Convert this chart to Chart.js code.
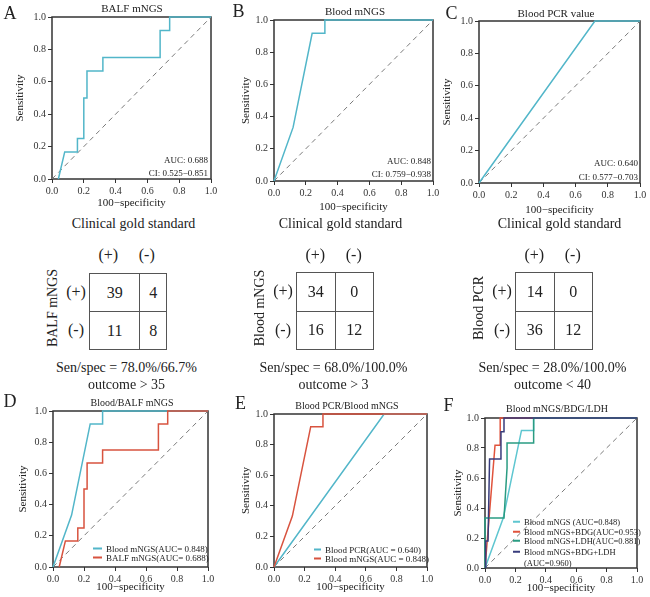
<!DOCTYPE html>
<html lang="en">
<head>
<meta charset="UTF-8">
<title>ROC curves of mNGS / PCR</title>
<script src="https://cdn.jsdelivr.net/npm/chart.js"></script>
<style>
  * { margin: 0; padding: 0; box-sizing: border-box; }
  body { background: #fff; font-family: "Liberation Serif", "Times New Roman", serif; color: #222; }
  #fig { position: relative; width: 650px; height: 597px; overflow: hidden; background: #fff; }
  #fig canvas { position: absolute; }
  .t { position: absolute; white-space: nowrap; line-height: 1; transform: translate(-50%, -50%); }
  .r { transform: translate(-100%, -50%); }
  .l { transform: translate(0, -50%); }
  .rot { transform: translate(-50%, -50%) rotate(-90deg); }
  .sw { display: inline-block; height: 1.5px; vertical-align: middle; margin-right: 4px; position: relative; top: -1px; }
  table.ct { position: absolute; border-collapse: collapse; }
  table.ct td { border: 1px solid #555; text-align: center; font-size: 16px; padding: 0; }
</style>
</head>
<body>
<div id="fig">
  <canvas id="rocA"></canvas>
  <canvas id="rocB"></canvas>
  <canvas id="rocC"></canvas>
  <canvas id="rocD"></canvas>
  <canvas id="rocE"></canvas>
  <canvas id="rocF"></canvas>
</div>

<script>
// ---- data ----
const tickValues = [0, 0.2, 0.4, 0.6, 0.8, 1.0];

const balfFpr = [0.04, 0.08, 0.16, 0.16, 0.20, 0.20, 0.22, 0.22, 0.32, 0.32, 0.68, 0.68, 0.74, 0.74, 1.0];
const balfTpr = [0, 0.167, 0.167, 0.25, 0.25, 0.5, 0.5, 0.667, 0.667, 0.75, 0.75, 0.917, 0.917, 1, 1];

const bloodFpr = [0, 0.12, 0.24, 0.32, 0.32, 1.0];
const bloodTpr = [0, 0.333, 0.917, 0.917, 1, 1];

const pcrFpr = [0, 0.72, 1.0];
const pcrTpr = [0, 1, 1];

const bdgFpr = [0, 0.066, 0.10, 0.10, 1.0];
const bdgTpr = [0, 0.818, 0.818, 1, 1];

const ldhFpr = [0, 0, 0.125, 0.135, 0.14, 0.145, 0.145, 0.32, 0.32, 1.0];
const ldhTpr = [0, 0.333, 0.333, 0.5, 0.583, 0.667, 0.833, 0.833, 1, 1];

const bdgLdhFpr = [0.005, 0.005, 0.02, 0.03, 0.105, 0.105, 0.125, 0.125, 1.0];
const bdgLdhTpr = [0, 0.18, 0.18, 0.727, 0.727, 0.909, 0.909, 1, 1];

const tableBalf = [[39, 4], [11, 8]];
const tableBlood = [[34, 0], [16, 12]];
const tablePcr = [[14, 0], [36, 12]];

const cyan = '#52b6c9';
const red = '#d8533f';
const fam = '"Liberation Serif", "Times New Roman", serif';

const fig = document.getElementById('fig');

function put(txt, x, y, size, cls, extra) {
  const d = document.createElement('div');
  d.className = 't' + (cls ? ' ' + cls : '');
  d.style.left = x + 'px';
  d.style.top = y + 'px';
  d.style.fontSize = size + 'px';
  if (extra) Object.assign(d.style, extra);
  d.innerHTML = txt;
  fig.appendChild(d);
  return d;
}

const frame = {
  id: 'frame',
  beforeDatasetsDraw(c) {
    const a = c.chartArea, ctx = c.ctx;
    ctx.save();
    ctx.strokeStyle = '#333';
    ctx.lineWidth = 1.5;
    ctx.strokeRect(a.left, a.top, a.right - a.left, a.bottom - a.top);
    ctx.restore();
  }
};

function axis(label, fit) {
  return {
    type: 'linear', min: 0, max: 1,
    afterBuildTicks: s => { s.ticks = tickValues.map(v => ({ value: v })); },
    afterFit: fit,
    ticks: { callback: v => v.toFixed(1), font: { family: fam, size: 10 }, color: '#333', padding: 2, maxRotation: 0 },
    grid: { drawOnChartArea: false, drawTicks: true, tickLength: 4, color: '#333' },
    border: { display: false },
    title: { display: true, text: label, font: { family: fam, size: 11, lineHeight: 1 }, padding: 0, color: '#222' }
  };
}

function roc(id, area, series, yOff, xOff) {
  const W = Math.round(yOff + 5.5), H = Math.round(xOff + 5.5);
  const padL = 4, padT = 10, padR = 14, padB = 4;
  const cv = document.getElementById(id);
  cv.width = (area.r - area.l) + W + padL + padR;
  cv.height = (area.b - area.t) + H + padT + padB;
  cv.style.left = (area.l - W - padL) + 'px';
  cv.style.top = (area.t - padT) + 'px';

  const sets = series.map(s => ({
    data: s.fpr.map((x, i) => ({ x: x, y: s.tpr[i] })),
    borderColor: s.color, borderWidth: 1.5, showLine: true,
    pointRadius: 0, tension: 0, fill: false, clip: 3
  }));
  sets.push({
    data: [{ x: 0, y: 0 }, { x: 1, y: 1 }],
    borderColor: '#7a7a7a', borderWidth: 1, borderDash: [5, 4],
    showLine: true, pointRadius: 0, fill: false
  });

  return new Chart(cv, {
    type: 'scatter',
    data: { datasets: sets },
    options: {
      responsive: false, animation: false, events: [],
      layout: { padding: { left: padL, top: padT, right: padR, bottom: padB } },
      plugins: { legend: { display: false }, tooltip: { enabled: false } },
      scales: {
        x: axis('100−specificity', s => { s.height = H; }),
        y: axis('Sensitivity', s => { s.width = W; })
      }
    },
    plugins: [frame]
  });
}

// top row
roc('rocA', { l: 52, r: 211, t: 17, b: 179 }, [{ fpr: balfFpr, tpr: balfTpr, color: cyan }], 31, 24);
roc('rocB', { l: 274, r: 433, t: 20, b: 181 }, [{ fpr: bloodFpr, tpr: bloodTpr, color: cyan }], 27, 26);
roc('rocC', { l: 479, r: 640, t: 21, b: 183 }, [{ fpr: pcrFpr, tpr: pcrTpr, color: cyan }], 31, 27);

// bottom row (first dataset is drawn on top)
roc('rocD', { l: 53, r: 208, t: 411, b: 567 }, [
  { fpr: balfFpr, tpr: balfTpr, color: red },
  { fpr: bloodFpr, tpr: bloodTpr, color: cyan }
], 29, 20);
roc('rocE', { l: 274, r: 427, t: 414, b: 567 }, [
  { fpr: bloodFpr, tpr: bloodTpr, color: red },
  { fpr: pcrFpr, tpr: pcrTpr, color: cyan }
], 27, 20);
roc('rocF', { l: 485, r: 637, t: 418, b: 568 }, [
  { fpr: bdgLdhFpr, tpr: bdgLdhTpr, color: '#383c7c' },
  { fpr: ldhFpr, tpr: ldhTpr, color: '#2a9c82' },
  { fpr: bdgFpr, tpr: bdgTpr, color: '#e0533c' },
  { fpr: bloodFpr, tpr: bloodTpr, color: '#5ec6d0' }
], 26, 20);

// panel letters and titles
[['A', 10, 12.5], ['B', 238.5, 11], ['C', 451.5, 12.5], ['D', 10, 401], ['E', 240.5, 402.5], ['F', 448.5, 404.5]]
  .forEach(p => put(p[0], p[1], p[2], 18));
put('BALF mNGS', 132, 8, 11);
put('Blood mNGS', 355, 11, 11);
put('Blood PCR value', 556, 13, 11);
put('Blood/BALF mNGS', 132, 403, 10);
put('Blood PCR/Blood mNGS', 347, 406, 10);
put('Blood mNGS/BDG/LDH', 557, 409, 10);

// AUC / CI notes
put('AUC: 0.688', 208, 160, 9, 'r');
put('CI: 0.525−0.851', 208, 173, 9, 'r');
put('AUC: 0.848', 431, 161, 9, 'r');
put('CI: 0.759−0.938', 431, 174, 9, 'r');
put('AUC: 0.640', 638, 163, 9, 'r');
put('CI: 0.577−0.703', 638, 177, 9, 'r');

// legends
function legend(x, rows, size, sw) {
  rows.forEach(r => {
    const sp = r[1] ? '<span class="sw" style="width:' + sw + 'px;background:' + r[1] + '"></span>' : '<span class="sw" style="width:' + sw + 'px"></span>';
    put(sp + r[0], x, r[2], size, 'l');
  });
}
legend(93, [['Blood mNGS(AUC= 0.848)', cyan, 549], ['BALF mNGS(AUC= 0.688)', red, 558]], 9, 9);
legend(314, [['Blood PCR(AUC = 0.640)', cyan, 550], ['Blood mNGS(AUC = 0.848)', red, 559]], 9, 7);
legend(513, [
  ['Blood mNGS (AUC=0.848)', '#5ec6d0', 522],
  ['Blood mNGS+BDG(AUC=0.953)', '#e0533c', 532],
  ['Blood mNGS+LDH(AUC=0.881)', '#2a9c82', 541],
  ['Blood mNGS+BDG+LDH', '#383c7c', 552],
  ['(AUC=0.960)', null, 563]
], 8.5, 7);

// 2x2 tables
function table(box, name, cells, sen, outcome) {
  const w = box.r - box.l, h = box.b - box.t;
  const cx = (box.l + box.r) / 2;
  put('Clinical gold standard', cx + 6, 224, 14);
  put('(+)', box.l + w / 4, 255, 16);
  put('(-)', box.l + 3 * w / 4, 255, 16);
  put('(+)', box.l - 13, box.t + h / 4, 16);
  put('(-)', box.l - 13, box.t + 3 * h / 4, 16);
  put(name, box.l - 36, (box.t + box.b) / 2 - 3, 14, 'rot');
  const tb = document.createElement('table');
  tb.className = 'ct';
  tb.style.left = box.l + 'px';
  tb.style.top = box.t + 'px';
  tb.style.width = (w + 1) + 'px';
  tb.style.height = (h + 1) + 'px';
  tb.innerHTML = cells.map(row => '<tr>' + row.map(v => '<td>' + v + '</td>').join('') + '</tr>').join('');
  fig.appendChild(tb);
  put(sen, cx - 1, 368, 14);
  put(outcome, cx - 1, 385, 14);
}
table({ l: 89, r: 166, t: 273, b: 349 }, 'BALF mNGS', tableBalf, 'Sen/spec = 78.0%/66.7%', 'outcome &gt; 35');
table({ l: 296, r: 373, t: 272, b: 349 }, 'Blood mNGS', tableBlood, 'Sen/spec = 68.0%/100.0%', 'outcome &gt; 3');
table({ l: 515, r: 592, t: 272, b: 349 }, 'Blood PCR', tablePcr, 'Sen/spec = 28.0%/100.0%', 'outcome &lt; 40');
</script>
</body>
</html>
